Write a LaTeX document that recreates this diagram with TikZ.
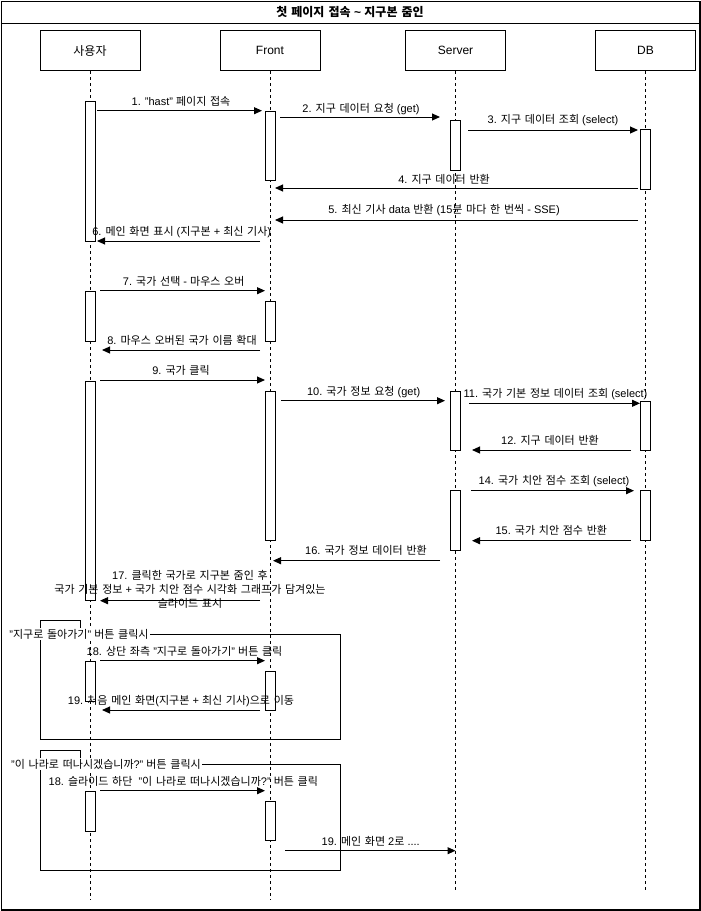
\documentclass[tikz,border=0pt]{standalone}
\usepackage{fontspec}
\setmainfont{Liberation Sans}
\newfontfamily\krfont[WordSpace=1.5]{Noto Sans CJK KR}
\newcommand\KR[1]{{\krfont #1}}
\usetikzlibrary{arrows.meta}
\begin{document}
\begin{tikzpicture}[x=1pt,y=-1pt,
  part/.style={draw,line width=1pt,minimum width=100pt,minimum height=40pt,inner sep=0pt,font=\fontsize{12pt}{14pt}\selectfont},
  act/.style={draw,fill=white,line width=1pt,minimum width=10pt,inner sep=0pt,anchor=north},
  life/.style={line width=1pt,dash pattern=on 3pt off 3pt},
  msg/.style={line width=1pt,-{Triangle[length=8pt,width=7pt]}},
  lbl/.style={inner sep=0pt,font=\fontsize{11pt}{14pt}\selectfont},
  flbl/.style={fill=white,inner sep=1pt,font=\fontsize{11pt}{14pt}\selectfont},
  framebox/.style={draw,line width=1pt,inner sep=0pt,anchor=north west}]
\useasboundingbox (0,0) rectangle (701,911);
% outer container and title
\node[draw,line width=1.5pt,minimum width=698.5pt,minimum height=908.5pt,inner sep=0pt,anchor=north west] (outer) at (0.75,0.75) {};
\draw[line width=1pt] (outer.west |- 0,23.3) -- (outer.east |- 0,23.3);
\node[font=\bfseries\fontsize{12pt}{14pt}\selectfont] (title) at (350,11.7) {\KR{첫 페이지 접속} \textasciitilde{} \KR{지구본 줌인}};
% participants
\node[part] (U) at (90,50.7) {\KR{사용자}};
\node[part] (F) at (270,50.7) {Front};
\node[part] (S) at (455.5,50.7) {Server};
\node[part] (D) at (645.5,50.7) {DB};
% lifelines
\draw[life] (U.south) -- (U |- 0,900);
\draw[life] (F.south) -- (F |- 0,900);
\draw[life] (S.south) -- (S |- 0,890);
\draw[life] (D.south) -- (D |- 0,890);
% frames
\node[framebox,minimum width=300pt,minimum height=105.3pt] (fr1) at (40,634) {};
\draw[line width=1pt] (fr1.north west) -- ++(0,-14) -- ++(40,0) -- ++(0,14);
\node[framebox,minimum width=300pt,minimum height=105.7pt] (fr2) at (40,764.3) {};
\draw[line width=1pt] (fr2.north west) -- ++(0,-14) -- ++(40,0) -- ++(0,14);
% activations
\node[act,minimum height=140pt] (u1) at (U |- 0,100.7) {};
\node[act,minimum height=50pt] (u2) at (U |- 0,290.7) {};
\node[act,minimum height=219.3pt] (u3) at (U |- 0,380.7) {};
\node[act,minimum height=40pt] (u4) at (U |- 0,660.7) {};
\node[act,minimum height=40pt] (u5) at (U |- 0,790.7) {};
\node[act,minimum height=69.3pt] (f1) at (F |- 0,110.7) {};
\node[act,minimum height=40pt] (f2) at (F |- 0,300.7) {};
\node[act,minimum height=149.3pt] (f3) at (F |- 0,390.7) {};
\node[act,minimum height=39.3pt] (f4) at (F |- 0,670.7) {};
\node[act,minimum height=39.3pt] (f5) at (F |- 0,800.7) {};
\node[act,minimum height=50pt] (s1) at (S |- 0,120) {};
\node[act,minimum height=59.3pt] (s2) at (S |- 0,390.7) {};
\node[act,minimum height=60pt] (s3) at (S |- 0,490) {};
\node[act,minimum height=60pt] (d1) at (D |- 0,129) {};
\node[act,minimum height=49.3pt] (d2) at (D |- 0,400.7) {};
\node[act,minimum height=50pt] (d3) at (D |- 0,490) {};
% messages
\draw[msg] ([xshift=7pt]U |- 0,110.7) -- ([xshift=-8pt]F |- 0,110.7);
\draw[msg] ([xshift=10pt]F |- 0,117) -- ([xshift=-15.5pt]S |- 0,117);
\draw[msg] ([xshift=12.5pt]S |- 0,130) -- ([xshift=-7.5pt]D |- 0,130);
\draw[msg] ([xshift=-7.5pt]D |- 0,188) -- ([xshift=5pt]F |- 0,188);
\draw[msg] ([xshift=-7.5pt]D |- 0,220) -- ([xshift=5pt]F |- 0,220);
\draw[msg] ([xshift=-10pt]F |- 0,241) -- ([xshift=7pt]U |- 0,241);
\draw[msg] ([xshift=10pt]U |- 0,290.7) -- ([xshift=-5pt]F |- 0,290.7);
\draw[msg] ([xshift=-10pt]F |- 0,350) -- ([xshift=12pt]U |- 0,350);
\draw[msg] ([xshift=10pt]U |- 0,380) -- ([xshift=-5pt]F |- 0,380);
\draw[msg] ([xshift=11pt]F |- 0,400.7) -- ([xshift=-10.5pt]S |- 0,400.7);
\draw[msg] ([xshift=13.5pt]S |- 0,403.3) -- ([xshift=-5.5pt]D |- 0,403.3);
\draw[msg] ([xshift=-14.5pt]D |- 0,450) -- ([xshift=16.5pt]S |- 0,450);
\draw[msg] ([xshift=15.5pt]S |- 0,490.7) -- ([xshift=-11.5pt]D |- 0,490.7);
\draw[msg] ([xshift=-14.5pt]D |- 0,540.7) -- ([xshift=16.5pt]S |- 0,540.7);
\draw[msg] ([xshift=-15.5pt]S |- 0,560.7) -- ([xshift=3pt]F |- 0,560.7);
\draw[msg] ([xshift=-10pt]F |- 0,600.7) -- ([xshift=10pt]U |- 0,600.7);
\draw[msg] ([xshift=10pt]U |- 0,660.7) -- ([xshift=-5pt]F |- 0,660.7);
\draw[msg] ([xshift=-10pt]F |- 0,710) -- ([xshift=12pt]U |- 0,710);
\draw[msg] ([xshift=10pt]U |- 0,790.7) -- ([xshift=-5pt]F |- 0,790.7);
\draw[msg] ([xshift=15pt]F |- 0,850.7) -- (S |- 0,850.7);
% message labels
\node[lbl] (l1) at (181,101.7) {1. "hast" \KR{페이지 접속}};
\node[lbl] (l2) at (361,109) {2. \KR{지구 데이터 요청} (get)};
\node[lbl] (l3) at (553,120.5) {3. \KR{지구 데이터 조회} (select)};
\node[lbl] (l4) at (444,179) {4. \KR{지구 데이터 반환}};
\node[lbl] (l5) at (444,210) {5. \KR{최신 기사} data \KR{반환} (15\KR{분 마다 한 번씩} - SSE)};
\node[lbl] (l6) at (181.7,231.7) {6. \KR{메인 화면 표시} (\KR{지구본} + \KR{최신 기사})};
\node[lbl] (l7) at (183.7,281.7) {7. \KR{국가 선택} - \KR{마우스 오버}};
\node[lbl] (l8) at (182,340) {8. \KR{마우스 오버된 국가 이름 확대}};
\node[lbl] (l9) at (181,370) {9. \KR{국가 클릭}};
\node[lbl] (l10) at (363.7,391.7) {10. \KR{국가 정보 요청} (get)};
\node[lbl] (l11) at (555.5,394) {11. \KR{국가 기본 정보 데이터 조회} (select)};
\node[lbl] (l12) at (550,440.7) {12. \KR{지구 데이터 반환}};
\node[lbl] (l14) at (554,480.7) {14. \KR{국가 치안 점수 조회} (select)};
\node[lbl] (l15) at (551.3,530.7) {15. \KR{국가 치안 점수 반환}};
\node[lbl] (l16) at (366,550.7) {16. \KR{국가 정보 데이터 반환}};
\node[lbl,align=center] (l17) at (190,589.3) {17. \KR{클릭한 국가로 지구본 줌인 후}\\\KR{국가 기본 정보} + \KR{국가 치안 점수 시각화 그래프가 담겨있는}\\\KR{슬라이드 표시}};
\node[lbl] (l18a) at (184.5,651.7) {18. \KR{상단 좌측} "\KR{지구로 돌아가기}" \KR{버튼 클릭}};
\node[lbl] (l19a) at (181,701) {19. \KR{처음 메인 화면}(\KR{지구본} + \KR{최신 기사})\KR{으로 이동}};
\node[lbl] (l18b) at (183.3,781.7) {18. \KR{슬라이드 하단}\ \ "\KR{이 나라로 떠나시겠습니까}?" \KR{버튼 클릭}};
\node[lbl] (l19b) at (370.7,841.7) {19. \KR{메인 화면} 2\KR{로} ....};
% frame labels
\node[flbl] (fl1) at (79,634) {"\KR{지구로 돌아가기}" \KR{버튼 클릭시}};
\node[flbl] (fl2) at (106,764.3) {"\KR{이 나라로 떠나시겠습니까}?" \KR{버튼 클릭시}};
\end{tikzpicture}
\end{document}
